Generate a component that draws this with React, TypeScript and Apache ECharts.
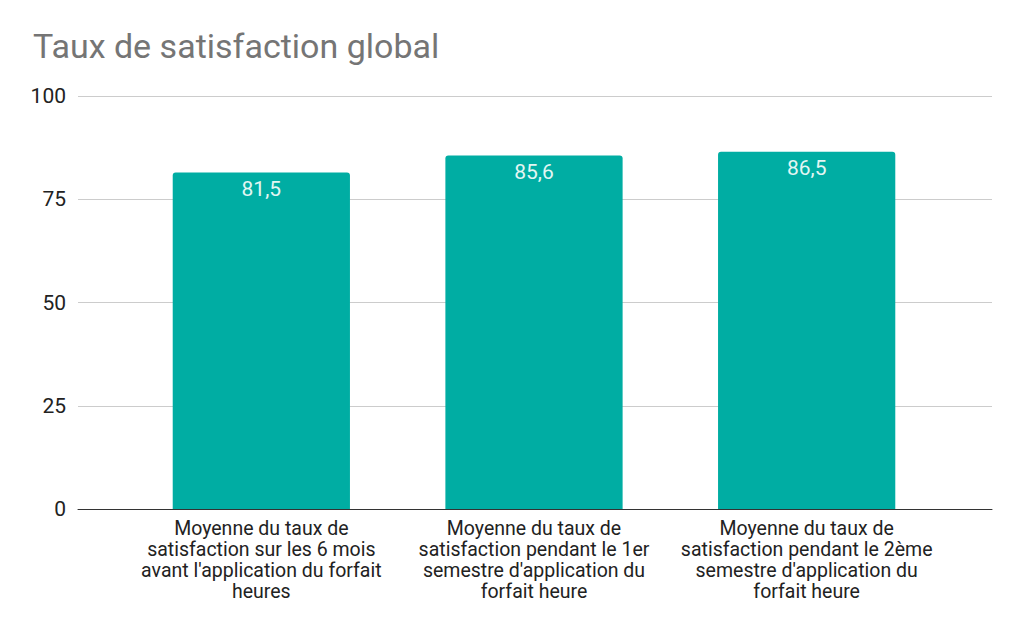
import React, { useEffect, useRef } from 'react';
import * as echarts from 'echarts';

const categories = [
  "Moyenne du taux de\nsatisfaction sur les 6 mois\navant l'application du forfait\nheures",
  "Moyenne du taux de\nsatisfaction pendant le 1er\nsemestre d'application du\nforfait heure",
  "Moyenne du taux de\nsatisfaction pendant le 2ème\nsemestre d'application du\nforfait heure",
];
const values = [81.5, 85.6, 86.5];
const yTicks = { min: 0, max: 100, interval: 25 };

const fr = (v: number) => String(v).replace('.', ',');

const App = () => {
  const chartRef = useRef<HTMLDivElement>(null);

  useEffect(() => {
    if (!chartRef.current) return;
    const chart = echarts.init(chartRef.current, null, { renderer: 'svg' });

    const option: echarts.EChartsOption = {
      animation: false,
      backgroundColor: '#ffffff',
      textStyle: { fontFamily: 'Roboto' },
      title: {
        text: 'Taux de satisfaction global',
        left: 33,
        top: 29,
        padding: 0,
        textStyle: { fontFamily: 'Roboto', fontSize: 34, fontWeight: 'normal', color: '#757575' },
      },
      // grid 0: gridlines, y labels and baseline across the whole width
      // grid 1: bars, inset at both ends
      grid: [
        { left: 78, right: 32, top: 96, bottom: 124 },
        { left: 125, right: 81, top: 96, bottom: 124 },
      ],
      xAxis: [
        {
          type: 'value',
          gridIndex: 0,
          min: 0,
          max: 1,
          axisLine: { show: true, onZero: false, lineStyle: { color: '#333333', width: 1 } },
          axisTick: { show: false },
          axisLabel: { show: false },
          splitLine: { show: false },
        },
        {
          type: 'category',
          gridIndex: 1,
          data: categories,
          axisLine: { show: false },
          axisTick: { show: false },
          axisLabel: {
            interval: 0,
            color: '#222222',
            fontSize: 19.5,
            lineHeight: 21,
            margin: 9,
            align: 'center',
          },
        },
      ],
      yAxis: [
        {
          type: 'value',
          gridIndex: 0,
          ...yTicks,
          axisLine: { show: false },
          axisTick: { show: false },
          splitLine: { lineStyle: { color: '#cccccc', width: 1 } },
          axisLabel: { color: '#222222', fontSize: 21, margin: 12 },
        },
        {
          type: 'value',
          gridIndex: 1,
          ...yTicks,
          show: false,
          splitLine: { show: false },
        },
      ],
      series: [
        {
          type: 'bar',
          xAxisIndex: 1,
          yAxisIndex: 1,
          data: values,
          barWidth: '65%',
          itemStyle: { color: '#00ada3', borderRadius: [3, 3, 0, 0] },
          label: {
            show: true,
            position: 'insideTop',
            distance: 6,
            color: '#e3f6f3',
            fontSize: 21,
            formatter: (p: any) => fr(p.value),
          },
        },
      ],
    };
    chart.setOption(option);

    const handleResize = () => chart.resize();
    window.addEventListener('resize', handleResize);
    return () => {
      window.removeEventListener('resize', handleResize);
      chart.dispose();
    };
  }, []);

  return <div ref={chartRef} style={{ width: 1024, height: 633, margin: -8 }} />;
};

export default App;
